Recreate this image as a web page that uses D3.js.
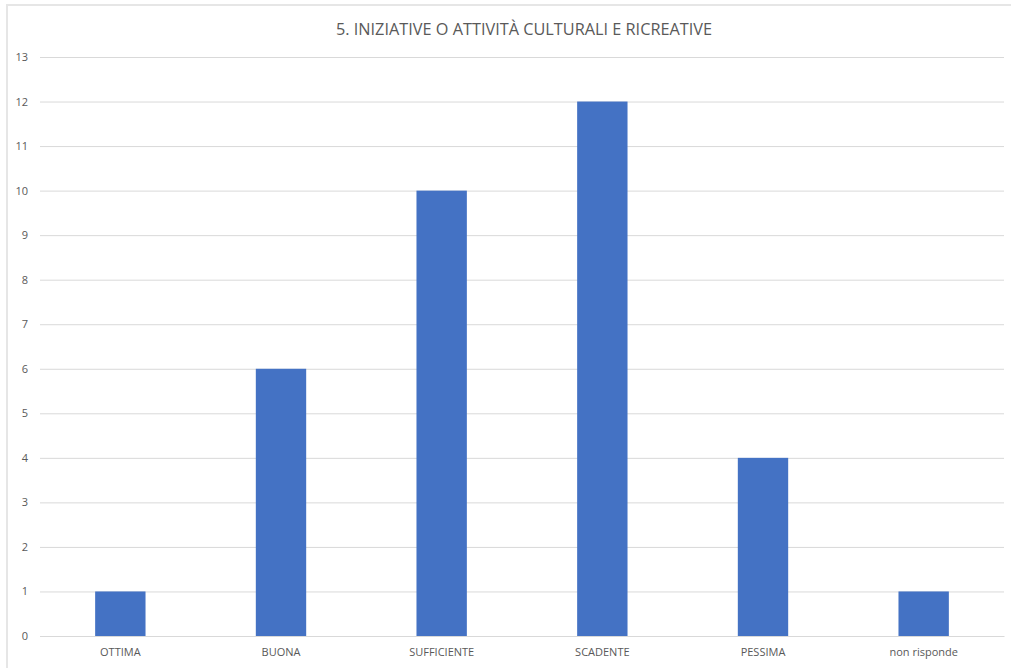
<!DOCTYPE html>
<html><head><meta charset="utf-8">
<script src="https://cdn.jsdelivr.net/npm/d3@7"></script>
<style>
html,body{margin:0;padding:0;background:#fff;}
svg{display:block;font-family:"Open Sans",sans-serif;}
</style></head>
<body>
<svg id="chart" width="1011" height="668"></svg>
<script>
const title = "5. INIZIATIVE O ATTIVITÀ CULTURALI E RICREATIVE";
const categories = ["OTTIMA","BUONA","SUFFICIENTE","SCADENTE","PESSIMA","non risponde"];
const values = [1,6,10,12,4,1];
const yTicks = [0,1,2,3,4,5,6,7,8,9,10,11,12,13];

const svg = d3.select("#chart");
const W = 1011, H = 668;
const m = {left:40, right:1004, top:57, bottom:636};

// border
svg.append("rect").attr("x",7).attr("y",5).attr("width",W-7+2).attr("height",H-5+2)
  .attr("fill","none").attr("stroke","#e6e6e6").attr("stroke-width",2);

const x = d3.scaleBand().domain(categories).range([m.left,m.right])
  .paddingInner(0.6865).paddingOuter(0.6865/2);
const y = d3.scaleLinear().domain([0,13]).range([m.bottom,m.top]);

// gridlines
const yAxis = d3.axisLeft(y).tickValues(yTicks).tickSize(-(m.right-m.left)).tickPadding(12).tickFormat(d3.format("d"));
const gy = svg.append("g").attr("transform",`translate(${m.left},0)`).call(yAxis);
gy.select(".domain").remove();
gy.selectAll(".tick line").attr("stroke","#d9d9d9").attr("stroke-width",1);
gy.selectAll(".tick text").attr("fill","#595959").style("font-size","11px").style("font-family","'Open Sans',sans-serif");

// bars
svg.append("g").selectAll("rect").data(values).join("rect")
  .attr("x",(d,i)=>x(categories[i]))
  .attr("y",d=>y(d))
  .attr("width",x.bandwidth())
  .attr("height",d=>y(0)-y(d))
  .attr("fill","#4472c4");

// x axis
const xAxis = d3.axisBottom(x).tickSize(0).tickPadding(12);
const gx = svg.append("g").attr("transform",`translate(0,${m.bottom})`).call(xAxis);
gx.select(".domain").attr("stroke","#d9d9d9");
gx.selectAll(".tick text").attr("fill","#595959").style("font-size","11px").style("font-family","'Open Sans',sans-serif");

// title
svg.append("text").attr("x",524).attr("y",35).attr("text-anchor","middle")
  .attr("fill","#595959").style("font-size","16.3px").text(title);
</script>
</body></html>
